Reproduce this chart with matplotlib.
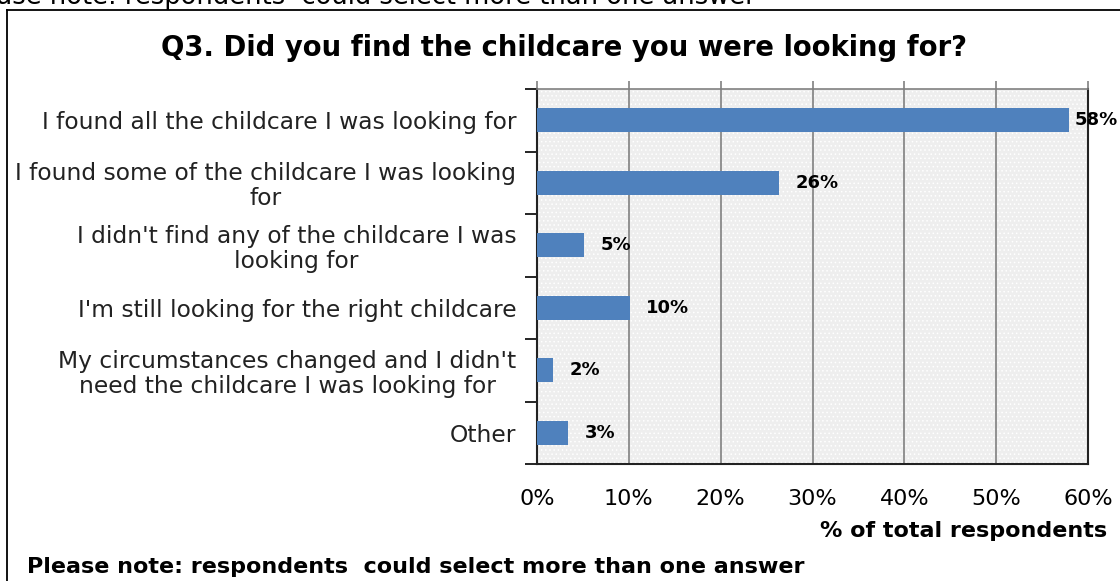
import matplotlib
matplotlib.use("Agg")
import numpy as np
import matplotlib.pyplot as plt
from matplotlib.patches import Rectangle
from matplotlib.lines import Line2D

plt.rcParams['font.family'] = ['DejaVu Sans']
plt.rcParams['hatch.color'] = 'white'
plt.rcParams['hatch.linewidth'] = 0.6

# data
categories = [
    "I found all the childcare I was looking for",
    "I found some of the childcare I was looking\nfor",
    "I didn't find any of the childcare I was\nlooking for",
    "I'm still looking for the right childcare",
    "My circumstances changed and I didn't\nneed the childcare I was looking for",
    "Other",
]
values = [57.9, 26.3, 5.1, 10.1, 1.7, 3.4]
labels = ["58%", "26%", "5%", "10%", "2%", "3%"]
xticks = [0, 10, 20, 30, 40, 50, 60]
title = "Q3. Did you find the childcare you were looking for?"
note = "Please note: respondents  could select more than one answer"

W, H = 1120, 581
fig = plt.figure(figsize=(W / 100, H / 100), dpi=100)

# outer frame (only top and left are visible in the picture)
fig.add_artist(Line2D([7 / W, 7 / W], [0, 1 - 10 / H], color='black', lw=1.3))
fig.add_artist(Line2D([7 / W, 1], [1 - 10 / H, 1 - 10 / H], color='black', lw=1.3))

# text cut off by the top edge, as in the source image
fig.text(-42 / W, 1 - 4 / H, note, fontsize=18.5, va='baseline', ha='left')

ax = fig.add_axes([537 / W, 1 - 464 / H, 551 / W, 375 / H])
ax.set_xlim(0, 60)
ax.set_ylim(len(categories) - 0.5, -0.5)

# dotted grey background
ax.add_patch(Rectangle((0, -0.5), 60, len(categories), facecolor='#eeeeee',
                       edgecolor='white', hatch='....', lw=0, zorder=0))

y = np.arange(len(categories))
ax.barh(y, values, height=0.38, color='#4f81bd', zorder=3)
for yi, v, lab in zip(y, values, labels):
    off = 4 if v > 55 else 12
    ax.annotate(lab, (v, yi), xytext=(off, 0), textcoords='offset points',
                va='center', ha='left', fontsize=13, fontweight='bold', zorder=5)

ax.set_xticks(xticks)
ax.set_xticklabels([f"{t}%" for t in xticks], fontsize=16)
ax.xaxis.grid(True, color='#808080', lw=1.2, zorder=1)
ax.set_axisbelow(True)
ax.tick_params(axis='x', which='both', bottom=False, top=True, length=6,
               color='#808080', width=1.2, pad=12)

# y ticks at category boundaries, labels at centres
ax.set_yticks(np.arange(-0.5, len(categories) + 0.5, 1))
ax.set_yticklabels([])
ax.tick_params(axis='y', which='major', length=9, width=1.2, color='black')
ax.set_yticks(y, minor=True)
ax.set_yticklabels(categories, minor=True, fontsize=16.8, linespacing=1.1,
                   multialignment='center', color='#222222')
ax.tick_params(axis='y', which='minor', length=0, pad=15)

for s in ['left', 'bottom', 'right']:
    ax.spines[s].set_color('#222222')
    ax.spines[s].set_linewidth(1.5)
ax.spines['top'].set_color('#808080')
ax.spines['top'].set_linewidth(1.2)

fig.text(564 / W, 1 - 48 / H, title, fontsize=19.8, fontweight='bold',
         ha='center', va='center')
fig.text(1107 / W, 1 - 531 / H, "% of total respondents", fontsize=16,
         fontweight='bold', ha='right', va='center')
fig.text(27 / W, 1 - 567 / H, note, fontsize=16, fontweight='bold',
         ha='left', va='center')

fig.savefig("out.png", dpi=100)
